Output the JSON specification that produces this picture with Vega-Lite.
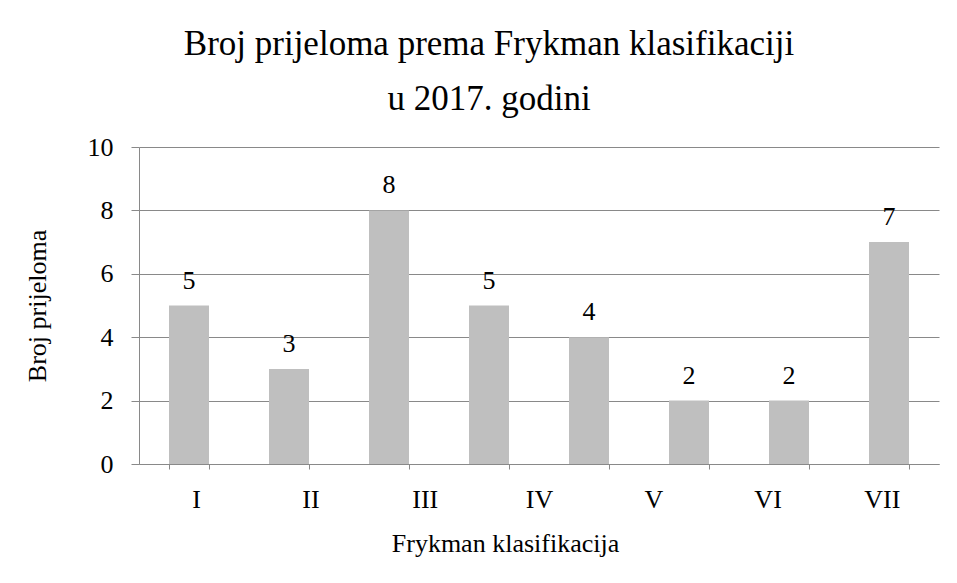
{
  "$schema": "https://vega.github.io/schema/vega-lite/v6.json",
  "width": 800,
  "height": 317,
  "autosize": "none",
  "padding": {"left": 139, "top": 147, "right": 18, "bottom": 119},
  "background": "white",
  "title": {
    "text": ["Broj prijeloma prema Frykman klasifikaciji", "u 2017. godini"],
    "font": "Times New Roman, Liberation Serif, serif",
    "fontSize": 35,
    "fontWeight": "normal",
    "color": "black",
    "anchor": "middle",
    "dx": -50,
    "offset": -11,
    "lineHeight": 55,
    "baseline": "alphabetic"
  },
  "config": {
    "font": "Times New Roman, Liberation Serif, serif",
    "view": {"stroke": null},
    "axis": {
      "labelFont": "Times New Roman, Liberation Serif, serif",
      "titleFont": "Times New Roman, Liberation Serif, serif",
      "labelColor": "black",
      "titleColor": "black",
      "labelFontSize": 26,
      "titleFontSize": 26,
      "titleFontWeight": "normal",
      "domainColor": "#898989",
      "tickColor": "#898989",
      "gridColor": "#898989",
      "domainWidth": 1,
      "tickWidth": 1,
      "gridWidth": 1
    }
  },
  "datasets": {
    "stupci": [
      {"kategorija": "I", "broj": 5},
      {"kategorija": "II", "broj": 3},
      {"kategorija": "III", "broj": 8},
      {"kategorija": "IV", "broj": 5},
      {"kategorija": "V", "broj": 4},
      {"kategorija": "VI", "broj": 2},
      {"kategorija": "VII", "broj": 2},
      {"kategorija": "VIII", "broj": 7}
    ],
    "oznake": [
      {"oznaka": "I"},
      {"oznaka": "II"},
      {"oznaka": "III"},
      {"oznaka": "IV"},
      {"oznaka": "V"},
      {"oznaka": "VI"},
      {"oznaka": "VII"}
    ]
  },
  "layer": [
    {
      "data": {"name": "stupci"},
      "encoding": {
        "x": {
          "field": "kategorija",
          "type": "ordinal",
          "sort": null,
          "scale": {"paddingInner": 0.6, "paddingOuter": 0.3},
          "axis": {
            "orient": "bottom",
            "labels": false,
            "ticks": true,
            "tickBand": "extent",
            "tickSize": 5,
            "domain": true,
            "grid": false,
            "title": null
          }
        },
        "y": {
          "field": "broj",
          "type": "quantitative",
          "scale": {"domain": [0, 10]},
          "axis": {
            "values": [0, 2, 4, 6, 8, 10],
            "grid": true,
            "tickSize": 8,
            "labelPadding": 18,
            "title": "Broj prijeloma",
            "titlePadding": 37
          }
        }
      },
      "layer": [
        {"mark": {"type": "bar", "color": "#bfbfbf"}},
        {
          "mark": {"type": "text", "baseline": "alphabetic", "dy": -17, "fontSize": 26, "font": "Times New Roman, Liberation Serif, serif", "color": "black"},
          "encoding": {"text": {"field": "broj", "type": "quantitative"}}
        }
      ]
    },
    {
      "data": {"name": "oznake"},
      "mark": {"type": "point", "opacity": 0},
      "encoding": {
        "x": {
          "field": "oznaka",
          "type": "ordinal",
          "sort": null,
          "scale": {"paddingInner": 0, "paddingOuter": 0},
          "axis": {
            "orient": "bottom",
            "ticks": false,
            "domain": false,
            "grid": false,
            "labelAngle": 0,
            "labelBaseline": "alphabetic",
            "labelPadding": 43,
            "title": "Frykman klasifikacija",
            "titleX": 366,
            "titleY": 87,
            "titleBaseline": "alphabetic"
          }
        }
      }
    }
  ],
  "resolve": {"scale": {"x": "independent"}, "axis": {"x": "independent"}}
}
